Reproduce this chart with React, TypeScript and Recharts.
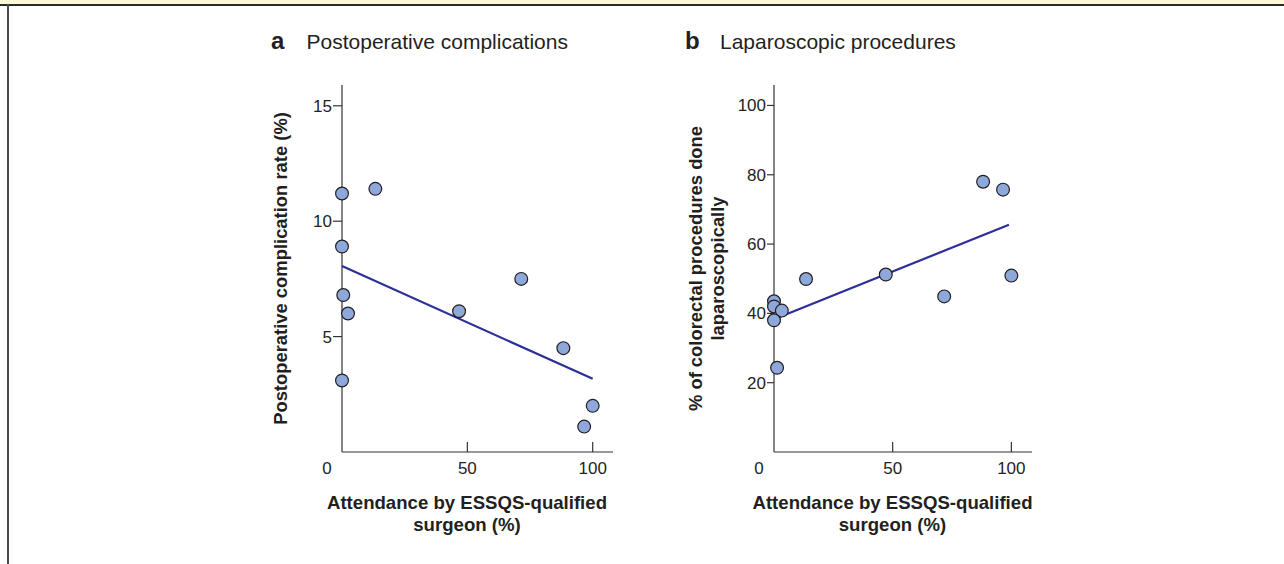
import { ScatterChart, Scatter, XAxis, YAxis } from 'recharts';

const FONT = '"Liberation Sans", Arial, Helvetica, sans-serif';
const INK = '#231f20';
const AXIS = '#333333';
const DOT_FILL = '#8fa8dc';
const FIT_COLOR = '#2c2f96';

// panel a: complications vs attendance
const attendanceA = [0, 13.3, 0, 0.5, 2.4, 0, 46.7, 71.5, 88.3, 96.6, 100];
const complicationRate = [11.2, 11.4, 8.9, 6.8, 6.0, 3.1, 6.1, 7.5, 4.5, 1.1, 2.0];
const fitAX = [0, 100];
const fitAY = [8.06, 3.17];
const ticksAY = [5, 10, 15];

// panel b: laparoscopic share vs attendance
const attendanceB = [0, 0, 3.3, 0, 1.3, 13.5, 47.1, 71.7, 88.1, 96.5, 100];
const laparoscopicRate = [43.5, 42.0, 40.8, 38.0, 24.3, 49.9, 51.2, 44.9, 78.0, 75.7, 50.9];
const fitBX = [0, 99];
const fitBY = [38.3, 65.6];
const ticksBY = [20, 40, 60, 80, 100];

const ticksX = [0, 50, 100];

const zip = (xs: number[], ys: number[]) => xs.map((x, i) => ({ x, y: ys[i] }));

const Dot = (p: any) => (
  <circle cx={p.cx} cy={p.cy} r={6.4} fill={DOT_FILL} stroke={INK} strokeWidth={1.2} />
);

const BottomTick = (p: any) => {
  const { x, y, payload } = p;
  if (payload.value === 0) {
    return (
      <text x={x - 15} y={y + 22} textAnchor="middle" fontSize={17} fill={INK} fontFamily={FONT}>
        0
      </text>
    );
  }
  return (
    <g>
      <line x1={x} x2={x} y1={y} y2={y - 10} stroke={AXIS} strokeWidth={1.2} />
      <text x={x} y={y + 22} textAnchor="middle" fontSize={17} fill={INK} fontFamily={FONT}>
        {payload.value}
      </text>
    </g>
  );
};

const XLabel = (p: any) => {
  const { viewBox, center } = p;
  const cx = viewBox.x + center;
  return (
    <text textAnchor="middle" fontSize={18.6} fontWeight="bold" fill={INK} fontFamily={FONT}>
      <tspan x={cx} y={viewBox.y + 57}>Attendance by ESSQS-qualified</tspan>
      <tspan x={cx} y={viewBox.y + 79}>surgeon (%)</tspan>
    </text>
  );
};

const YLabel = (p: any) => {
  const { viewBox, lines, offsets } = p;
  const cy = viewBox.y + viewBox.height / 2;
  return (
    <g>
      {lines.map((s: string, i: number) => {
        const bx = viewBox.x + offsets[i];
        return (
          <text
            key={i}
            x={bx}
            y={cy}
            transform={`rotate(-90 ${bx} ${cy})`}
            textAnchor="middle"
            fontSize={18.4}
            fontWeight="bold"
            fill={INK}
            fontFamily={FONT}
          >
            {s}
          </text>
        );
      })}
    </g>
  );
};

type PanelProps = {
  left: number;
  width: number;
  marginLeft: number;
  marginRight: number;
  xMax: number;
  yMax: number;
  yTicks: number[];
  yTickSize: number;
  points: { x: number; y: number }[];
  fit: { x: number; y: number }[];
  yLines: string[];
  yOffsets: number[];
  xCenter: number;
};

function Panel(props: PanelProps) {
  return (
    <div style={{ position: 'absolute', left: props.left, top: 20 }}>
      <ScatterChart
        width={props.width}
        height={530}
        margin={{ top: 65, right: props.marginRight, bottom: 38, left: props.marginLeft }}
      >
        <XAxis
          type="number"
          dataKey="x"
          domain={[0, props.xMax]}
          ticks={ticksX}
          interval={0}
          height={60}
          tickLine={false}
          tickSize={0}
          tickMargin={0}
          tick={<BottomTick />}
          axisLine={{ stroke: AXIS, strokeWidth: 1.2 }}
          label={<XLabel center={props.xCenter} />}
        />
        <YAxis
          type="number"
          dataKey="y"
          domain={[0, props.yMax]}
          ticks={props.yTicks}
          interval={0}
          width={60}
          tickSize={props.yTickSize}
          tickMargin={1}
          tick={{ fontSize: 17, fill: INK, fontFamily: FONT }}
          tickLine={{ stroke: AXIS, strokeWidth: 1.2 }}
          axisLine={{ stroke: AXIS, strokeWidth: 1.2 }}
          label={<YLabel lines={props.yLines} offsets={props.yOffsets} />}
        />
        <Scatter
          data={props.fit}
          line={{ stroke: FIT_COLOR, strokeWidth: 2.2 }}
          shape={() => <g />}
          legendType="none"
          isAnimationActive={false}
        />
        <Scatter data={props.points} shape={Dot} isAnimationActive={false} />
      </ScatterChart>
    </div>
  );
}

export default function App() {
  return (
    <div
      style={{
        position: 'absolute',
        left: 0,
        top: 0,
        width: 1284,
        height: 564,
        background: '#ffffff',
        overflow: 'hidden',
        fontFamily: FONT,
      }}
    >
      <div style={{ position: 'absolute', left: 0, top: 0, width: 1284, height: 4, background: '#fdf8d6' }} />
      <div style={{ position: 'absolute', left: 0, top: 4, width: 1284, height: 2, background: '#2a2a2a' }} />
      <div style={{ position: 'absolute', left: 7, top: 4, width: 2, height: 560, background: '#4a4a4a' }} />

      <Panel
        left={250}
        width={380}
        marginLeft={32}
        marginRight={17}
        xMax={108.1}
        yMax={15.9}
        yTicks={ticksAY}
        yTickSize={9}
        points={zip(attendanceA, complicationRate)}
        fit={zip(fitAX, fitAY)}
        yLines={['Postoperative complication rate (%)']}
        yOffsets={[4.5]}
        xCenter={125}
      />
      <Panel
        left={680}
        width={370}
        marginLeft={34}
        marginRight={18}
        xMax={108.7}
        yMax={105.9}
        yTicks={ticksBY}
        yTickSize={7}
        points={zip(attendanceB, laparoscopicRate)}
        fit={zip(fitBX, fitBY)}
        yLines={['% of colorectal procedures done', 'laparoscopically']}
        yOffsets={[-12, 9.5]}
        xCenter={118.5}
      />

      <svg
        width={1284}
        height={564}
        style={{ position: 'absolute', left: 0, top: 0, pointerEvents: 'none' }}
      >
        <text x={271} y={48.5} fontSize={24} fontWeight="bold" fill={INK} fontFamily={FONT}>a</text>
        <text x={306.5} y={48.5} fontSize={21} fill={INK} fontFamily={FONT}>Postoperative complications</text>
        <text x={685} y={48.5} fontSize={24} fontWeight="bold" fill={INK} fontFamily={FONT}>b</text>
        <text x={720} y={48.5} fontSize={21} fill={INK} fontFamily={FONT}>Laparoscopic procedures</text>
      </svg>
    </div>
  );
}
